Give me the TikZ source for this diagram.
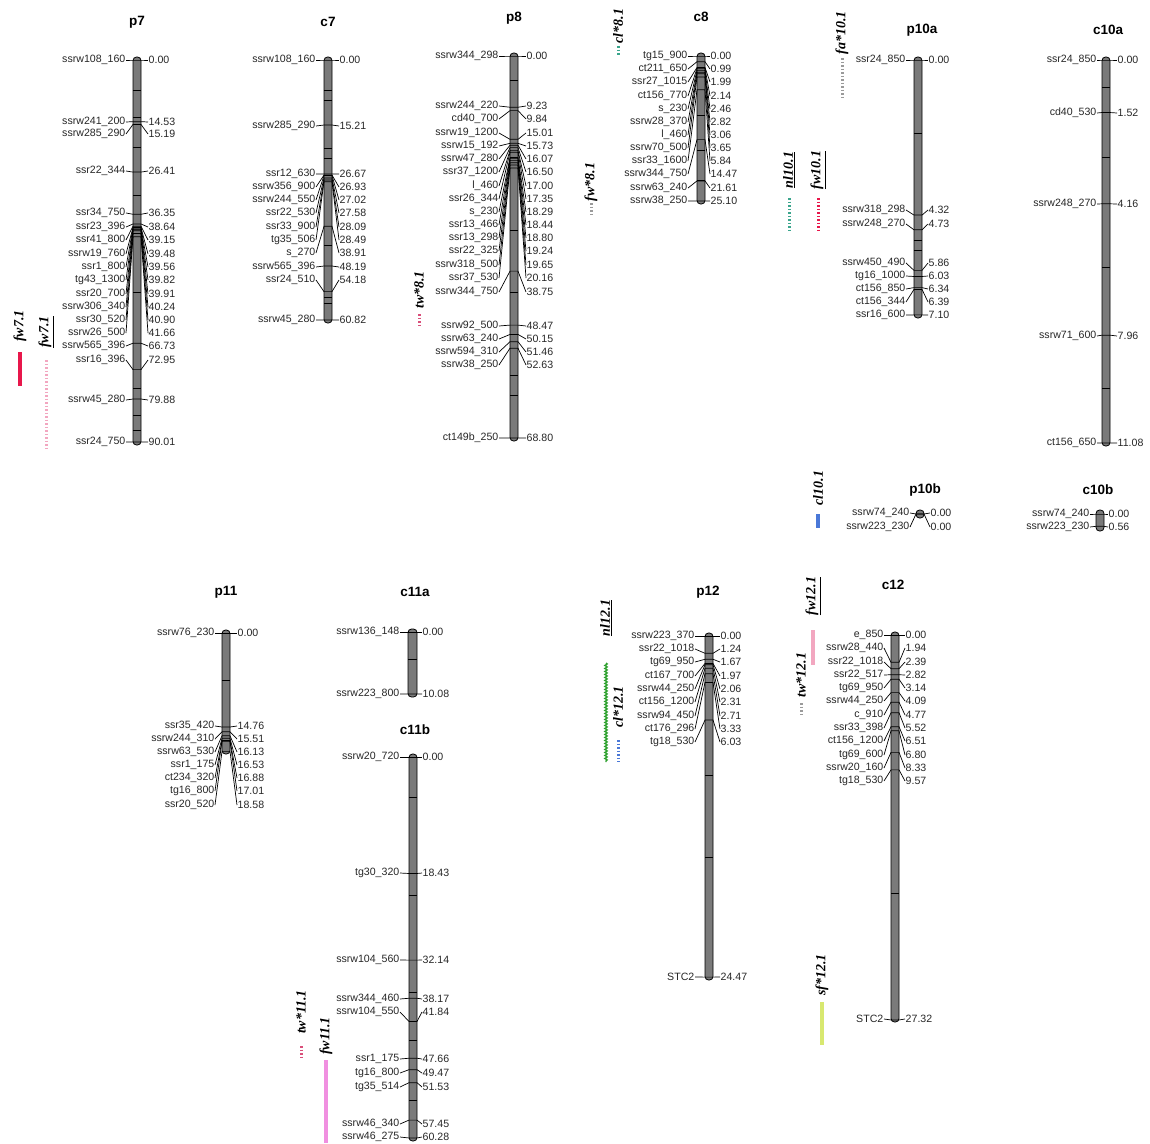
\documentclass[tikz,border=0pt]{standalone}
\usepackage{fontspec}
\setmainfont{Liberation Serif}
\setsansfont{Liberation Sans}
\usepackage{xcolor}
\usepackage{tikz}
\usetikzlibrary{decorations.pathmorphing}

\definecolor{qred}{HTML}{E8174B}
\definecolor{qpink}{HTML}{F2A7C0}
\definecolor{qrose}{HTML}{D94F7A}
\definecolor{qteal}{HTML}{3AA58C}
\definecolor{qgray}{HTML}{9A9A9A}
\definecolor{qgreen}{HTML}{2CA02C}
\definecolor{qblue}{HTML}{4A78D8}
\definecolor{qlime}{HTML}{D8E870}
\definecolor{qmag}{HTML}{F090E0}

\tikzset{
  mkl/.style={anchor=east, inner sep=0.5pt, text=black!85, font=\sffamily\fontsize{10.6}{10.6}\selectfont},
  cml/.style={anchor=west, inner sep=0.5pt, text=black!85, font=\sffamily\fontsize{10.6}{10.6}\selectfont},
  lead/.style={line width=0.7pt},
  band/.style={line width=1pt},
  chrbar/.style={draw=black, fill=black!52, line width=0.8pt, rounded corners=3.5pt},
  chrname/.style={font=\sffamily\bfseries\fontsize{13.5}{13.5}\selectfont},
  qtl/.style={rotate=90, inner sep=0pt, font=\rmfamily\itshape\bfseries\fontsize{14}{14}\selectfont},
  qbar/.style={line width=3.5pt},
  qdots/.style={line width=3pt, dash pattern=on 1.5pt off 2pt},
  qwave/.style={line width=1.3pt, decorate, decoration={snake, amplitude=1.2pt, segment length=3pt}},
}

\begin{document}
\begin{tikzpicture}[x=1pt, y=-1pt]
  \useasboundingbox (0,0) rectangle (1150,1143);

  % ---- p7 ----
  \node[chrname] (p7) at (137,22) {p7};
  \draw[chrbar] (133,57) rectangle (141,445);
  \foreach \t in {90,117,147,195,292,388,415,430} \draw[band] (133,\t) -- (141,\t);
  \foreach \m/\v/\y [count=\i] in {ssrw108\_160/0.00/60, ssrw241\_200/14.53/122, ssrw285\_290/15.19/134,
      ssr22\_344/26.41/171, ssr34\_750/36.35/213, ssr23\_396/38.64/227, ssr41\_800/39.15/240,
      ssrw19\_760/39.48/254, ssr1\_800/39.56/267, tg43\_1300/39.82/280, ssr20\_700/39.91/294,
      ssrw306\_340/40.24/307, ssr30\_520/40.90/320, ssrw26\_500/41.66/333, ssrw565\_396/66.73/346,
      ssr16\_396/72.95/360, ssrw45\_280/79.88/400, ssr24\_750/90.01/442}{
    \node[mkl] (p7m\i) at (126,\y) {\m};
    \node[cml] (p7v\i) at (148,\y) {\v};
    \coordinate (p7a\i) at (133,{60+\v*4.244});
    \coordinate (p7b\i) at (141,{60+\v*4.244});
    \draw[lead] (p7m\i.east) -- (p7a\i) -- (p7b\i) -- (p7v\i.west);
  }

  % ---- c7 ----
  \node[chrname] (c7) at (328,22) {c7};
  \draw[chrbar] (324,57) rectangle (332,323);
  \foreach \t in {90,100,148,158,245,297,303} \draw[band] (324,\t) -- (332,\t);
  \foreach \m/\v/\y [count=\i] in {ssrw108\_160/0.00/60, ssrw285\_290/15.21/126, ssr12\_630/26.67/174,
      ssrw356\_900/26.93/187, ssrw244\_550/27.02/200, ssr22\_530/27.58/213, ssr33\_900/28.09/227,
      tg35\_506/28.49/240, s\_270/38.91/253, ssrw565\_396/48.19/267, ssr24\_510/54.18/280,
      ssrw45\_280/60.82/320}{
    \node[mkl] (c7m\i) at (316,\y) {\m};
    \node[cml] (c7v\i) at (339,\y) {\v};
    \coordinate (c7a\i) at (324,{60+\v*4.275});
    \coordinate (c7b\i) at (332,{60+\v*4.275});
    \draw[lead] (c7m\i.east) -- (c7a\i) -- (c7b\i) -- (c7v\i.west);
  }

  % ---- p8 ----
  \node[chrname] (p8) at (514,18) {p8};
  \draw[chrbar] (510,53) rectangle (518,441);
  \foreach \t in {80,230,292,375,395} \draw[band] (510,\t) -- (518,\t);
  \foreach \m/\v/\y [count=\i] in {ssrw344\_298/0.00/56, ssrw244\_220/9.23/106, cd40\_700/9.84/119,
      ssrw19\_1200/15.01/133, ssrw15\_192/15.73/146, ssrw47\_280/16.07/159, ssr37\_1200/16.50/172,
      l\_460/17.00/186, ssr26\_344/17.35/199, s\_230/18.29/212, ssr13\_466/18.44/225,
      ssr13\_298/18.80/238, ssr22\_325/19.24/251, ssrw318\_500/19.65/265, ssr37\_530/20.16/278,
      ssrw344\_750/38.75/292, ssrw92\_500/48.47/326, ssrw63\_240/50.15/339, ssrw594\_310/51.46/352,
      ssrw38\_250/52.63/365, ct149b\_250/68.80/438}{
    \node[mkl] (p8m\i) at (499,\y) {\m};
    \node[cml] (p8v\i) at (526,\y) {\v};
    \coordinate (p8a\i) at (510,{56+\v*5.552});
    \coordinate (p8b\i) at (518,{56+\v*5.552});
    \draw[lead] (p8m\i.east) -- (p8a\i) -- (p8b\i) -- (p8v\i.west);
  }

  % ---- c8 ----
  \node[chrname] (c8) at (701,17) {c8};
  \draw[chrbar] (697,53) rectangle (705,204);
  \foreach \t in {115,150,180} \draw[band] (697,\t) -- (705,\t);
  \foreach \m/\v/\y [count=\i] in {tg15\_900/0.00/56, ct211\_650/0.99/69, ssr27\_1015/1.99/82,
      ct156\_770/2.14/96, s\_230/2.46/109, ssrw28\_370/2.82/122, l\_460/3.06/135,
      ssrw70\_500/3.65/148, ssr33\_1600/5.84/161, ssrw344\_750/14.47/174, ssrw63\_240/21.61/188,
      ssrw38\_250/25.10/201}{
    \node[mkl] (c8m\i) at (688,\y) {\m};
    \node[cml] (c8v\i) at (710,\y) {\v};
    \coordinate (c8a\i) at (697,{56+\v*5.78});
    \coordinate (c8b\i) at (705,{56+\v*5.78});
    \draw[lead] (c8m\i.east) -- (c8a\i) -- (c8b\i) -- (c8v\i.west);
  }

  % ---- p10a ----
  \node[chrname] (p10a) at (922,30) {p10a};
  \draw[chrbar] (914,57) rectangle (922,318);
  \foreach \t in {133,240,250} \draw[band] (914,\t) -- (922,\t);
  \foreach \m/\v/\y [count=\i] in {ssr24\_850/0.00/60, ssrw318\_298/4.32/210, ssrw248\_270/4.73/224,
      ssrw450\_490/5.86/263, tg16\_1000/6.03/276, ct156\_850/6.34/289, ct156\_344/6.39/302,
      ssr16\_600/7.10/315}{
    \node[mkl] (p10am\i) at (906,\y) {\m};
    \node[cml] (p10av\i) at (928,\y) {\v};
    \coordinate (p10aa\i) at (914,{60+\v*35.9});
    \coordinate (p10ab\i) at (922,{60+\v*35.9});
    \draw[lead] (p10am\i.east) -- (p10aa\i) -- (p10ab\i) -- (p10av\i.west);
  }

  % ---- c10a ----
  \node[chrname] (c10a) at (1108,30) {c10a};
  \draw[chrbar] (1102,57) rectangle (1110,446);
  \foreach \t in {87,157,267,388} \draw[band] (1102,\t) -- (1110,\t);
  \foreach \m/\v/\y [count=\i] in {ssr24\_850/0.00/60, cd40\_530/1.52/113, ssrw248\_270/4.16/204,
      ssrw71\_600/7.96/336, ct156\_650/11.08/443}{
    \node[mkl] (c10am\i) at (1097,\y) {\m};
    \node[cml] (c10av\i) at (1117,\y) {\v};
    \coordinate (c10aa\i) at (1102,{60+\v*34.57});
    \coordinate (c10ab\i) at (1110,{60+\v*34.57});
    \draw[lead] (c10am\i.east) -- (c10aa\i) -- (c10ab\i) -- (c10av\i.west);
  }

  % ---- p10b ----
  \node[chrname] (p10b) at (925,490) {p10b};
  \draw[chrbar] (916,510) rectangle (924,518);
  \foreach \m/\v/\y [count=\i] in {ssrw74\_240/0.00/513, ssrw223\_230/0.00/527}{
    \node[mkl] (p10bm\i) at (910,\y) {\m};
    \node[cml] (p10bv\i) at (930,\y) {\v};
    \coordinate (p10ba\i) at (916,{514+\v});
    \coordinate (p10bb\i) at (924,{514+\v});
    \draw[lead] (p10bm\i.east) -- (p10ba\i) -- (p10bb\i) -- (p10bv\i.west);
  }

  % ---- c10b ----
  \node[chrname] (c10b) at (1098,490) {c10b};
  \draw[chrbar] (1096,510) rectangle (1104,531);
  \foreach \m/\v/\y [count=\i] in {ssrw74\_240/0.00/514, ssrw223\_230/0.56/527}{
    \node[mkl] (c10bm\i) at (1090,\y) {\m};
    \node[cml] (c10bv\i) at (1108,\y) {\v};
    \coordinate (c10ba\i) at (1096,{514+\v*22});
    \coordinate (c10bb\i) at (1104,{514+\v*22});
    \draw[lead] (c10bm\i.east) -- (c10ba\i) -- (c10bb\i) -- (c10bv\i.west);
  }

  % ---- p11 ----
  \node[chrname] (p11) at (226,592) {p11};
  \draw[chrbar] (222,630) rectangle (230,754);
  \draw[band] (222,680) -- (230,680);
  \foreach \m/\v/\y [count=\i] in {ssrw76\_230/0.00/633, ssr35\_420/14.76/726, ssrw244\_310/15.51/739,
      ssrw63\_530/16.13/752, ssr1\_175/16.53/765, ct234\_320/16.88/778, tg16\_800/17.01/791,
      ssr20\_520/18.58/805}{
    \node[mkl] (p11m\i) at (215,\y) {\m};
    \node[cml] (p11v\i) at (237,\y) {\v};
    \coordinate (p11a\i) at (222,{633+\v*6.37});
    \coordinate (p11b\i) at (230,{633+\v*6.37});
    \draw[lead] (p11m\i.east) -- (p11a\i) -- (p11b\i) -- (p11v\i.west);
  }

  % ---- c11a ----
  \node[chrname] (c11a) at (415,592) {c11a};
  \draw[chrbar] (408,629) rectangle (417,697);
  \draw[band] (408,659) -- (417,659);
  \foreach \m/\v/\y [count=\i] in {ssrw136\_148/0.00/632, ssrw223\_800/10.08/694}{
    \node[mkl] (c11am\i) at (400,\y) {\m};
    \node[cml] (c11av\i) at (422,\y) {\v};
    \coordinate (c11aa\i) at (408,{632+\v*6.15});
    \coordinate (c11ab\i) at (417,{632+\v*6.15});
    \draw[lead] (c11am\i.east) -- (c11aa\i) -- (c11ab\i) -- (c11av\i.west);
  }

  % ---- c11b ----
  \node[chrname] (c11b) at (415,730) {c11b};
  \draw[chrbar] (409,754) rectangle (417,1141);
  \foreach \t in {797,895,992,1040,1100} \draw[band] (409,\t) -- (417,\t);
  \foreach \m/\v/\y [count=\i] in {ssrw20\_720/0.00/757, tg30\_320/18.43/873, ssrw104\_560/32.14/960,
      ssrw344\_460/38.17/999, ssrw104\_550/41.84/1012, ssr1\_175/47.66/1059, tg16\_800/49.47/1073,
      tg35\_514/51.53/1087, ssrw46\_340/57.45/1124, ssrw46\_275/60.28/1137}{
    \node[mkl] (c11bm\i) at (400,\y) {\m};
    \node[cml] (c11bv\i) at (422,\y) {\v};
    \coordinate (c11ba\i) at (409,{757+\v*6.32});
    \coordinate (c11bb\i) at (417,{757+\v*6.32});
    \draw[lead] (c11bm\i.east) -- (c11ba\i) -- (c11bb\i) -- (c11bv\i.west);
  }

  % ---- p12 ----
  \node[chrname] (p12) at (708,592) {p12};
  \draw[chrbar] (705,633) rectangle (713,980);
  \foreach \t in {775,857} \draw[band] (705,\t) -- (713,\t);
  \foreach \m/\v/\y [count=\i] in {ssrw223\_370/0.00/636, ssr22\_1018/1.24/649, tg69\_950/1.67/662,
      ct167\_700/1.97/676, ssrw44\_250/2.06/689, ct156\_1200/2.31/702, ssrw94\_450/2.71/716,
      ct176\_296/3.33/729, tg18\_530/6.03/742, STC2/24.47/977}{
    \node[mkl] (p12m\i) at (695,\y) {\m};
    \node[cml] (p12v\i) at (720,\y) {\v};
    \coordinate (p12a\i) at (705,{636+\v*13.94});
    \coordinate (p12b\i) at (713,{636+\v*13.94});
    \draw[lead] (p12m\i.east) -- (p12a\i) -- (p12b\i) -- (p12v\i.west);
  }

  % ---- c12 ----
  \node[chrname] (c12) at (893,585) {c12};
  \draw[chrbar] (891,632) rectangle (899,1022);
  \draw[band] (891,893) -- (899,893);
  \foreach \m/\v/\y [count=\i] in {e\_850/0.00/635, ssrw28\_440/1.94/648, ssr22\_1018/2.39/662,
      ssr22\_517/2.82/675, tg69\_950/3.14/688, ssrw44\_250/4.09/701, c\_910/4.77/715,
      ssr33\_398/5.52/728, ct156\_1200/6.51/741, tg69\_600/6.80/755, ssrw20\_160/8.33/768,
      tg18\_530/9.57/781, STC2/27.32/1019}{
    \node[mkl] (c12m\i) at (884,\y) {\m};
    \node[cml] (c12v\i) at (905,\y) {\v};
    \coordinate (c12a\i) at (891,{635+\v*14.09});
    \coordinate (c12b\i) at (899,{635+\v*14.09});
    \draw[lead] (c12m\i.east) -- (c12a\i) -- (c12b\i) -- (c12v\i.west);
  }

  % ---- QTL bars ----
  \node[qtl] (fw71a) at (20,326) {fw7.1};
  \draw[qbar, qred] (20,352) -- (20,386);
  \node[qtl] (fw71b) at (46,332) {\underline{fw7.1}};
  \draw[qdots, qpink] (46,360) -- (46,450);
  \node[qtl] (tw81) at (419,290) {tw*8.1};
  \draw[qdots, qrose] (419,314) -- (419,328);
  \node[qtl] (cl81) at (618,26) {cl*8.1};
  \draw[qdots, qteal] (618,46) -- (618,56);
  \node[qtl] (fw81) at (591,182) {fw*8.1};
  \draw[qdots, qgray] (591,203) -- (591,214);
  \node[qtl] (fa101) at (842,33) {fa*10.1};
  \draw[qdots, qgray] (842,58) -- (842,100);
  \node[qtl] (nl101) at (789,170) {\underline{nl10.1}};
  \draw[qdots, qteal] (789,198) -- (789,230);
  \node[qtl] (fw101) at (818,170) {\underline{fw10.1}};
  \draw[qdots, qred] (818,198) -- (818,232);
  \node[qtl] (cl101) at (818,488) {cl10.1};
  \draw[qbar, qblue] (818,514) -- (818,528);
  \node[qtl] (nl121) at (606,618) {\underline{nl12.1}};
  \draw[qwave, qgreen] (606,663) -- (606,762);
  \node[qtl] (cl121) at (618,707) {cl*12.1};
  \draw[qdots, qblue] (618,740) -- (618,762);
  \node[qtl] (fw121) at (813,596) {\underline{fw12.1}};
  \draw[qbar, qpink] (813,630) -- (813,665);
  \node[qtl] (tw121) at (801,675) {tw*12.1};
  \draw[qdots, qgray] (801,703) -- (801,716);
  \node[qtl] (sf121) at (822,975) {sf*12.1};
  \draw[qbar, qlime] (822,1002) -- (822,1045);
  \node[qtl] (tw111) at (301,1012) {tw*11.1};
  \draw[qdots, qrose] (301,1046) -- (301,1060);
  \node[qtl] (fw111) at (326,1036) {fw11.1};
  \draw[qbar, qmag] (326,1060) -- (326,1143);
\end{tikzpicture}
\end{document}
